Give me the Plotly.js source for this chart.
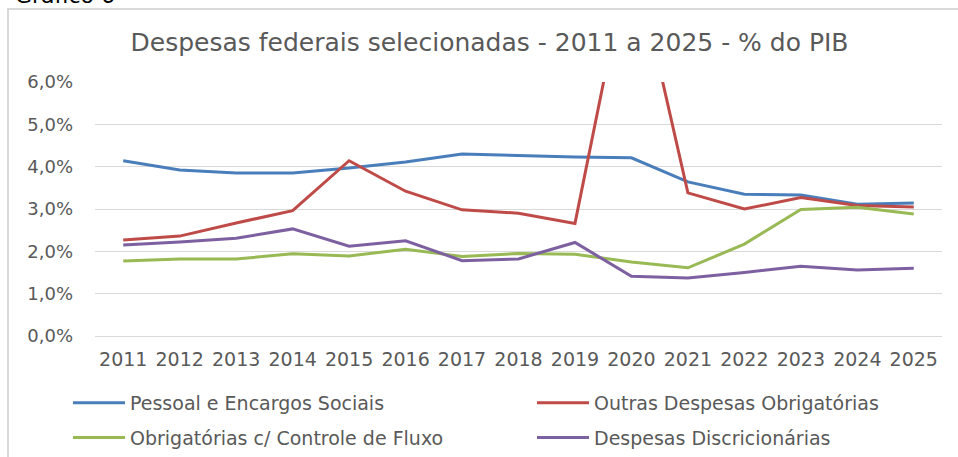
<!DOCTYPE html>
<html>
<head>
<meta charset="utf-8">
<script src="https://cdn.plot.ly/plotly-3.0.1.min.js"></script>
<style>html,body{margin:0;padding:0;background:#fff;}#chart{width:958px;height:457px;}</style>
</head>
<body>
<div id="chart"></div>
<script>
var years = ['2011','2012','2013','2014','2015','2016','2017','2018','2019','2020','2021','2022','2023','2024','2025'];
var pessoal = [4.14, 3.92, 3.85, 3.85, 3.97, 4.11, 4.30, 4.26, 4.23, 4.21, 3.64, 3.35, 3.33, 3.11, 3.14];
var outras = [2.27, 2.36, 2.67, 2.96, 4.14, 3.42, 2.98, 2.90, 2.66, 9.25, 3.38, 3.00, 3.27, 3.08, 3.05];
var controle = [1.77, 1.82, 1.82, 1.94, 1.89, 2.05, 1.88, 1.95, 1.93, 1.75, 1.61, 2.17, 2.99, 3.04, 2.88];
var discric = [2.15, 2.22, 2.31, 2.53, 2.12, 2.25, 1.78, 1.82, 2.21, 1.41, 1.37, 1.50, 1.65, 1.56, 1.60];
var names = ['Pessoal e Encargos Sociais', 'Outras Despesas Obrigatórias', 'Obrigatórias c/ Controle de Fluxo', 'Despesas Discricionárias'];
var colors = ['#4A7EBB', '#BE4B48', '#98B954', '#7D60A0'];
var legendOf = ['legend', 'legend2', 'legend', 'legend2'];
var yTicks = [0, 1, 2, 3, 4, 5, 6];
var yTickLabels = ['0,0%', '1,0%', '2,0%', '3,0%', '4,0%', '5,0%', '6,0%'];

var series = [pessoal, outras, controle, discric];
var traces = series.map(function (s, i) {
  return {
    x: years, y: s, name: names[i], type: 'scatter', mode: 'lines',
    line: {color: colors[i], width: 3, shape: 'linear'},
    legend: legendOf[i], legendgroup: 'g' + i,
    hoverinfo: 'skip'
  };
});

var font = 'DejaVu Sans, Open Sans, sans-serif';
var legendBase = {
  orientation: 'v',
  xanchor: 'left', xref: 'container',
  y: 1 - 384 / 457, yanchor: 'top', yref: 'container',
  font: {family: font, size: 19, color: '#595959'},
  traceorder: 'grouped',
  tracegroupgap: 7,
  itemwidth: 52,
  bgcolor: 'rgba(0,0,0,0)'
};
var legend1 = Object.assign({}, legendBase, {x: 68 / 958});
var legend2 = Object.assign({}, legendBase, {x: 532 / 958});

var layout = {
  width: 958, height: 457,
  margin: {l: 95, r: 16, t: 82, b: 121, autoexpand: false},
  paper_bgcolor: '#ffffff', plot_bgcolor: '#ffffff',
  showlegend: true,
  title: {
    text: 'Despesas federais selecionadas - 2011 a 2025 - % do PIB',
    font: {family: font, size: 25, color: '#595959'},
    x: 0.511, xanchor: 'center', xref: 'container',
    y: 0.908, yanchor: 'middle', yref: 'container'
  },
  xaxis: {
    type: 'category', range: [-0.5, 14.5],
    tickmode: 'linear', dtick: 1, tickangle: 0,
    showgrid: false, zeroline: false, showline: false, ticks: '',
    tickfont: {family: font, size: 19, color: '#595959'},
    ticklabelstandoff: 10,
    fixedrange: true
  },
  yaxis: {
    range: [0, 6],
    tickvals: yTicks, ticktext: yTickLabels,
    showgrid: true, gridcolor: '#D9D9D9', gridwidth: 1,
    zeroline: true, zerolinecolor: '#D9D9D9', zerolinewidth: 1,
    showline: false, ticks: '',
    tickfont: {family: font, size: 18, color: '#595959'},
    ticklabelstandoff: 21,
    fixedrange: true
  },
  legend: legend1,
  legend2: legend2,
  shapes: [{
    type: 'rect', xref: 'paper', yref: 'paper',
    x0: -0.1027, x1: 1.05, y0: -0.6, y1: 1.287,
    line: {color: '#D9D9D9', width: 2}, fillcolor: 'rgba(0,0,0,0)', layer: 'below'
  }],
  annotations: [{
    text: 'Gráfico 6', xref: 'paper', yref: 'paper',
    x: -0.0968, xanchor: 'left', y: 1.2835, yanchor: 'bottom',
    showarrow: false, font: {family: font, size: 22, color: '#000000'}
  }]
};

Plotly.newPlot('chart', traces, layout, {displayModeBar: false, staticPlot: true});
</script>
</body>
</html>
